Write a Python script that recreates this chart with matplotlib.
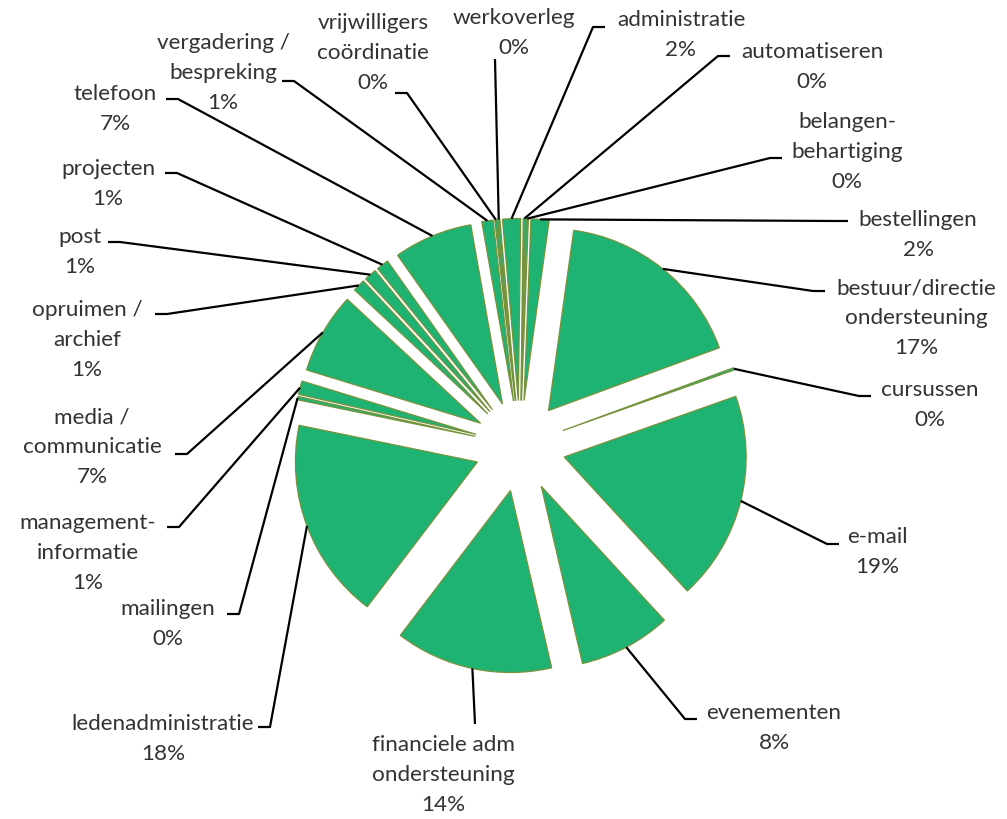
import numpy as np
import matplotlib.pyplot as plt

plt.rcParams['font.family'] = ['Lato', 'DejaVu Sans']

categories = ['administratie', 'automatiseren', 'belangen-\nbehartiging', 'bestellingen',
              'bestuur/directie\nondersteuning', 'cursussen', 'e-mail', 'evenementen',
              'financiele adm\nondersteuning', 'ledenadministratie', 'mailingen',
              'management-\ninformatie', 'media /\ncommunicatie', 'opruimen /\narchief',
              'post', 'projecten', 'telefoon', 'vergadering /\nbespreking',
              'vrijwilligers\ncoördinatie', 'werkoverleg']
shares = [1.6, 0.2, 0.2, 1.6, 17.2, 0.2, 18.6, 8.2, 14.0, 17.9,
          0.3, 1.2, 7.2, 1.1, 1.1, 1.1, 7.0, 1.0, 0.2, 0.2]

# where the labels sit in the picture (pixels from top-left): text centre and end of leader
label_xy = [(681, 35), (812, 67), (847, 152), (918, 235), (916, 318), (930, 405),
            (877, 552), (774, 728), (443, 775), (163, 739), (168, 624), (88, 553),
            (92, 447), (87, 340), (80, 252), (108, 184), (115, 109), (223, 73),
            (373, 53), (514, 33)]
leader_end = [(605, 28), (730, 57), (782, 159), (848, 222), (825, 292), (871, 397),
              (839, 545), (697, 720), (475, 725), (258, 728), (227, 615), (167, 528),
              (175, 455), (155, 315), (108, 243), (165, 174), (166, 100), (282, 82),
              (395, 94), (495, 60)]

W, H = 1007, 820
fill = '#1EB273'
edge = '#77933C'

fig = plt.figure(figsize=(W / 100, H / 100), dpi=100)
ax = fig.add_axes([0, 0, 1, 1])

radius = 182
wedges, _ = ax.pie(shares, explode=[0.25 * radius] * len(shares), radius=radius,
                   center=(520, H - 447), startangle=95, counterclock=False,
                   colors=[fill] * len(shares),
                   wedgeprops=dict(edgecolor=edge, linewidth=0.9))

total = sum(shares)
for w, cat, val, (tx, ty), (ex, ey) in zip(wedges, categories, shares, label_xy, leader_end):
    mid = np.deg2rad((w.theta1 + w.theta2) / 2)
    ax_, ay_ = w.center[0] + w.r * np.cos(mid), w.center[1] + w.r * np.sin(mid)
    ey = H - ey
    if abs(ex - ax_) < 25:
        xs, ys = [ax_, ex], [ay_, ey]
    else:
        side = np.sign(ex - ax_)
        xs, ys = [ax_, ex - 12 * side, ex], [ay_, ey, ey]
    ax.plot(xs, ys, color='black', lw=1.6, solid_capstyle='butt')
    pct = round(val / total * 100)
    ax.text(tx, H - ty, f"{cat}\n{pct:.0f}%", ha='center', va='center',
            multialignment='center', fontsize=16.2, linespacing=1.62, color='#333333')

ax.set_xlim(0, W)
ax.set_ylim(0, H)
ax.set_aspect('auto')
ax.axis('off')

fig.savefig('out.png', dpi=100)
